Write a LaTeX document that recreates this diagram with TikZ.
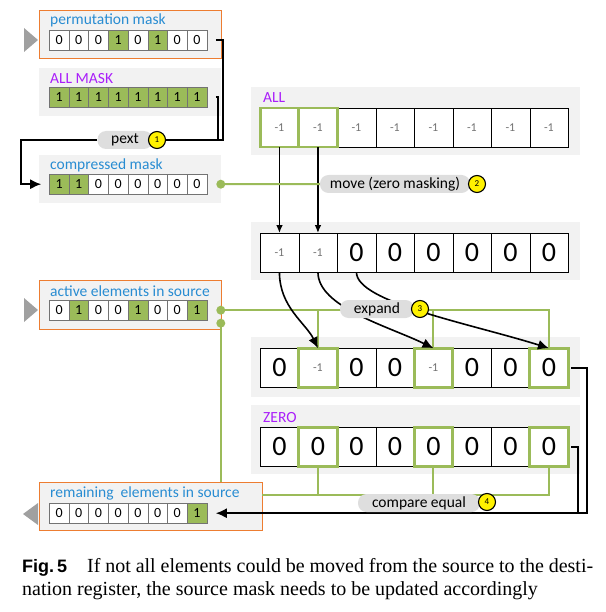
\documentclass[tikz,border=0pt]{standalone}
\usepackage{fontspec}
\setmainfont{Liberation Serif}
\newfontfamily\diagfont{Carlito}
\newfontfamily\figfont{Liberation Sans}
\usetikzlibrary{matrix,arrows.meta}

\definecolor{boxgray}{RGB}{242,242,242}
\definecolor{maskgreen}{RGB}{155,187,89}
\definecolor{srcorange}{RGB}{237,125,49}
\definecolor{ttlblue}{RGB}{40,140,210}
\definecolor{regpurple}{RGB}{170,30,250}
\definecolor{pillgray}{RGB}{222,222,222}
\definecolor{trigray}{RGB}{160,160,160}

\tikzset{
  mask/.style={matrix of nodes, anchor=north west, inner sep=0pt, outer sep=0pt,
    column sep=-\pgflinewidth,
    nodes={draw=black!55, fill=white, minimum width=19.7pt, minimum height=20pt,
      inner sep=0pt, anchor=center, font=\diagfont\fontsize{14}{14}\selectfont}},
  reg/.style={matrix of nodes, anchor=north west, inner sep=0pt, outer sep=0pt,
    column sep=-\pgflinewidth,
    nodes={draw, fill=white, minimum width=38.5pt, minimum height=39pt,
      inner sep=0pt, anchor=center, font=\diagfont\fontsize{28}{28}\selectfont}},
  bit/.style={fill=maskgreen},
  neg/.style={text=black!55, font=\diagfont\fontsize{12}{12}\selectfont},
  panel/.style={fill=boxgray, anchor=north west, inner sep=0pt},
  srcpanel/.style={panel, draw=srcorange, line width=1.2pt},
  ttl/.style={anchor=base west, inner sep=0pt, text=ttlblue,
    font=\diagfont\fontsize{15.5}{16}\selectfont},
  regttl/.style={ttl, text=regpurple},
  hl/.style={draw=maskgreen, line width=2.6pt},
  conn/.style={line width=1.6pt},
  arr/.style={conn, -{Latex[length=11pt,width=10pt]}},
  smallarr/.style={conn, -{Latex[length=8pt,width=6.5pt]}},
  gline/.style={draw=maskgreen, line width=2pt},
  gdot/.style={circle, fill=maskgreen, minimum size=9pt, inner sep=0pt},
  pill/.style={fill=pillgray, rounded corners=8.5pt, minimum height=18pt, inner sep=0pt,
    font=\diagfont\fontsize{15.5}{16}\selectfont},
  num/.style={circle, draw, line width=1.1pt, fill=yellow, minimum size=17pt,
    inner sep=0pt, font=\diagfont\fontsize{9}{9}\selectfont},
  intri/.style={fill=trigray}
}

\begin{document}
\begin{tikzpicture}[x=1pt,y=-1pt]
\useasboundingbox (0,0) rectangle (605,612);

% source side
\node[srcpanel, minimum width=182pt, minimum height=48pt] (permbox) at (39,10) {};
\node[panel, minimum width=182pt, minimum height=48pt] (allmbox) at (39,68) {};
\node[panel, minimum width=182pt, minimum height=48pt] (cmpbox) at (39,155) {};
\node[srcpanel, minimum width=182pt, minimum height=49pt] (actbox) at (39,280) {};
\node[srcpanel, minimum width=223pt, minimum height=48pt] (rembox) at (39,482) {};

\node[ttl] (permttl) at (50,25) {permutation mask};
\node[regttl] (allmttl) at (50,84) {ALL MASK};
\node[ttl] (cmpttl) at (50,170) {compressed mask};
\node[ttl] (actttl) at (50,296) {active elements in source};
\node[ttl] (remttl) at (50,497) {remaining\ \ elements in source};

\matrix[mask] (perm) at (49,30) {
  0 & 0 & 0 & |[bit]| 1 & 0 & |[bit]| 1 & 0 & 0 \\
};
\matrix[mask] (allm) at (49,87) {
  |[bit]| 1 & |[bit]| 1 & |[bit]| 1 & |[bit]| 1 & |[bit]| 1 & |[bit]| 1 & |[bit]| 1 & |[bit]| 1 \\
};
\matrix[mask] (cmp) at (49,174) {
  |[bit]| 1 & |[bit]| 1 & 0 & 0 & 0 & 0 & 0 & 0 \\
};
\matrix[mask] (act) at (49,300) {
  0 & |[bit]| 1 & 0 & 0 & |[bit]| 1 & 0 & 0 & |[bit]| 1 \\
};
\matrix[mask] (rem) at (49,503) {
  0 & 0 & 0 & 0 & 0 & 0 & 0 & |[bit]| 1 \\
};

\fill[intri] (24,28) -- (38,40) -- (24,52) -- cycle;
\fill[intri] (24,298) -- (38,310) -- (24,322) -- cycle;
\fill[intri] (38,503) -- (23,514) -- (38,525) -- cycle;

% registers
\node[panel, minimum width=329pt, minimum height=68pt] (allbox) at (251,87) {};
\node[panel, minimum width=329pt, minimum height=58pt] (resbox) at (251,222) {};
\node[panel, minimum width=329pt, minimum height=60pt] (expbox) at (251,337) {};
\node[panel, minimum width=329pt, minimum height=69pt] (zerobox) at (251,405) {};
\node[regttl] (allttl) at (263,103) {ALL};
\node[regttl] (zerottl) at (263,422) {ZERO};

\matrix[reg] (all) at (260,108) {
  |[neg]| -1 & |[neg]| -1 & |[neg]| -1 & |[neg]| -1 & |[neg]| -1 & |[neg]| -1 & |[neg]| -1 & |[neg]| -1 \\
};
\matrix[reg] (res) at (260,233) {
  |[neg]| -1 & |[neg]| -1 & 0 & 0 & 0 & 0 & 0 & 0 \\
};
\matrix[reg] (exp) at (260,348) {
  0 & |[neg]| -1 & 0 & 0 & |[neg]| -1 & 0 & 0 & 0 \\
};
\matrix[reg] (zero) at (260,427) {
  0 & 0 & 0 & 0 & 0 & 0 & 0 & 0 \\
};

\foreach \c in {1,2}
  \draw[hl] (all-1-\c.north west) rectangle (all-1-\c.south east);
\foreach \c in {2,5,8} {
  \draw[hl] (exp-1-\c.north west) rectangle (exp-1-\c.south east);
  \draw[hl] (zero-1-\c.north west) rectangle (zero-1-\c.south east);
}

% green mask lines
\coordinate (cdot) at ([xshift=14pt]cmp-1-8.east);
\coordinate (adot) at ([xshift=14pt]act-1-8.east);
\coordinate (adot2) at ([xshift=14pt,yshift=-13pt]act-1-8.east);
\coordinate (zj) at (262,495);
\draw[gline] (adot) -| (exp-1-8.north);
\foreach \c in {2,5}
  \draw[gline] (exp-1-\c.north) -- (exp-1-\c.north |- adot);
\draw[gline] (adot2) -- (adot2 |- rembox.north);
\draw[gline] (zero-1-8.south) |- (zj);
\foreach \c in {2,5}
  \draw[gline] (zero-1-\c.south) -- (zero-1-\c.south |- zj);
\node[gdot] at (adot) {};
\node[gdot] at (adot2) {};

% data movement
\draw[smallarr] (all-1-1.south) -- (res-1-1.north);
\draw[smallarr] (all-1-2.south) -- (res-1-2.north);
\draw[arr] (res-1-1.south) .. controls +(0,35) and +(-12,-25) .. (exp-1-2.north);
\draw[arr] (res-1-2.south) .. controls +(0,35) and +(-45,-22) .. (exp-1-5.north);
\draw[arr] (res-1-3.south) .. controls +(0,30) and +(-80,-25) .. (exp-1-8.north);

\coordinate (bj) at (578,513);
\draw[conn] ([xshift=3pt]zero-1-8.east) -| (bj);
\draw[arr] ([xshift=3pt]exp-1-8.east) -- ++(16,0) |- ([xshift=9pt]rem-1-8.east);

% operations
\node[pill, minimum width=55pt] (pext) at (125,140) {pext};
\node[num] (n1) at (157,140) {1};
\node[pill, minimum width=150pt] (move) at (395,184) {move (zero masking)};
\node[num] (n2) at (477,184) {2};
\node[pill, minimum width=74pt] (expand) at (377,309) {expand};
\node[num] (n3) at (420,309) {3};
\node[pill, minimum width=122pt] (cmpeq) at (419,503) {compare equal};
\node[num] (n4) at (487,502) {4};

\coordinate (pj) at (223,140);
\coordinate (pj2) at (218,140);
\coordinate (cj) at (21,140);
\draw[conn] ([xshift=9pt]perm-1-8.east) -| (pj) -- (pj2);
\draw[conn] ([xshift=9pt]allm-1-8.east) -| (pj2);
\draw[conn] (pj2) -- (n1.east);
\draw[arr] (pext.west) -- (cj) |- ([xshift=-8pt]cmp-1-1.west);
\draw[gline] (cdot) -- (move.west);
\node[gdot] at (cdot) {};

% caption
\node[anchor=north west, text width=571pt, align=justify, inner sep=0pt,
  font=\fontsize{20}{23}\selectfont] (cap) at (22,558)
  {{\figfont\bfseries\fontsize{18}{23}\selectfont Fig.\,5}\quad If not all elements could be moved from the source to the desti-\linebreak
   nation register, the source mask needs to be updated accordingly};
\end{tikzpicture}
\end{document}
